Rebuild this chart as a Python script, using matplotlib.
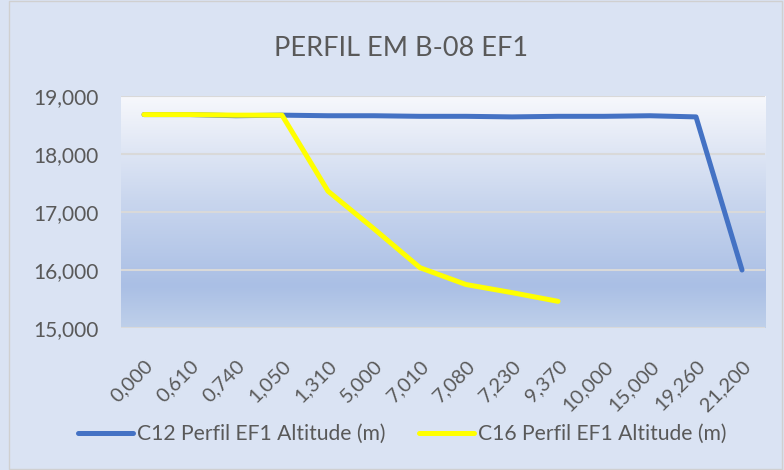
import matplotlib.pyplot as plt
import numpy as np
from matplotlib.colors import LinearSegmentedColormap
from matplotlib.patches import Rectangle

# Distances (km) used as categorical x labels
categories = ['0,000', '0,610', '0,740', '1,050', '1,310', '5,000', '7,010',
              '7,080', '7,230', '9,370', '10,000', '15,000', '19,260', '21,200']

# Altitude (m)
c12 = [18.68, 18.68, 18.66, 18.67, 18.66, 18.66, 18.65,
       18.65, 18.64, 18.65, 18.65, 18.66, 18.64, 16.00]
c16 = [18.68, 18.68, 18.67, 18.67, 17.36, 16.71, 16.04,
       15.75, 15.61, 15.46]

yticks = [15, 16, 17, 18, 19]

txt = '#595959'
plt.rcParams['font.family'] = ['Lato', 'DejaVu Sans']

fig = plt.figure(figsize=(7.84, 4.70), dpi=100, facecolor='#dae3f3')
fig.patches.append(Rectangle((0.012, 0.002), 0.985, 0.996, transform=fig.transFigure,
                             fill=False, edgecolor='#d0d0d0', linewidth=1))

ax = fig.add_axes([0.1543, 0.3021, 0.8215, 0.4936])

# plot area gradient (white at top to blue near bottom)
grad = LinearSegmentedColormap.from_list(
    'g', [(0.0, '#bfd0ea'), (0.18, '#aabfe5'), (0.55, '#c9d6ee'), (1.0, '#f7f8fc')])
ax.imshow(np.linspace(0, 1, 256).reshape(-1, 1), cmap=grad, origin='lower',
          aspect='auto', extent=[0, 1, 0, 1], transform=ax.transAxes, zorder=0)

x = np.arange(len(categories))
ax.plot(x, c12, color='#4472c4', linewidth=3.6, solid_capstyle='round',
        solid_joinstyle='round', label='C12 Perfil EF1 Altitude (m)', zorder=3)
ax.plot(x[:len(c16)], c16, color='#ffff00', linewidth=3.6, solid_capstyle='round',
        solid_joinstyle='round', label='C16 Perfil EF1 Altitude (m)', zorder=4)

ax.set_xlim(-0.5, len(categories) - 0.5)
ax.set_ylim(15, 19)
ax.set_yticks(yticks)
ax.set_yticklabels([f'{v:.3f}'.replace('.', ',') for v in yticks])
ax.set_xticks(x)
ax.set_xticklabels(categories, rotation=45, ha='right', va='top', rotation_mode='anchor')
ax.tick_params(axis='y', length=0, pad=16, labelsize=15, labelcolor=txt)
ax.tick_params(axis='x', length=0, pad=21, labelsize=14.5, labelcolor=txt)
ax.grid(axis='y', color='#d9d9d9', linewidth=1.5, zorder=1)
ax.set_axisbelow(False)
for s in ax.spines.values():
    s.set_visible(False)
for gl in ax.get_ygridlines():
    gl.set_zorder(1)

fig.text(0.512, 0.897, 'PERFIL EM B-08 EF1', ha='center', va='center',
         fontsize=19.5, color=txt)

fig.legend(loc='center', bbox_to_anchor=(0.513, 0.076), ncol=2, frameon=False,
           fontsize=15.2, labelcolor=txt, handlelength=2.6, handletextpad=0.2,
           columnspacing=1.6)

plt.savefig('out.png', dpi=100, facecolor=fig.get_facecolor())
